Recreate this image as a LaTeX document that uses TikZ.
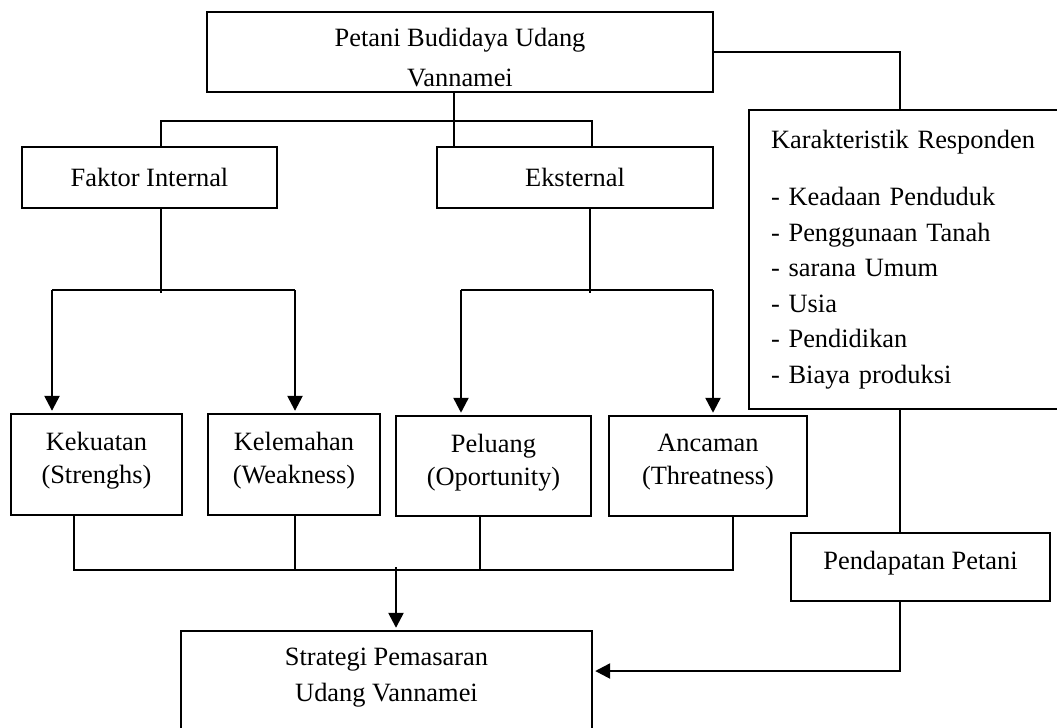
\documentclass[tikz,border=0pt]{standalone}
\usepackage{fontspec}
\setmainfont{Liberation Serif}
\usetikzlibrary{positioning,arrows.meta,calc}
\newcommand{\turun}[1]{\rule[-#1]{0pt}{#1}}

\begin{document}
\begin{tikzpicture}[x=0.4545pt,y=-0.4545pt,
  kotak/.style={draw,line width=0.9pt,align=center,inner sep=0pt,font=\fontsize{12}{15}\selectfont},
  garis/.style={line width=0.9pt},
  panah/.style={line width=1.1pt,-{Triangle[length=6.8pt,width=6.8pt]},shorten >=1pt}]
  \useasboundingbox (0,0) rectangle (1057,727);
  \clip (0,0) rectangle (1057,727);
  % kotak
  \node[kotak,minimum width=230pt,minimum height=36.4pt] (petani) at (460,52)
    {\rule{0pt}{13.6pt}Petani Budidaya Udang\\[3pt]Vannamei};
  \node[kotak,minimum width=115.9pt,minimum height=27.7pt] (internal) at (149.5,177.5) {Faktor Internal};
  \node[kotak,minimum width=125.4pt,minimum height=27.7pt] (eksternal) at (575,177.5) {Eksternal};
  \node[kotak,anchor=north west,align=left,text width=122pt,inner xsep=10pt,minimum height=135.9pt,
    font=\fontsize{12}{16.1}\selectfont] (karakteristik) at (748,109)
    {Karakteristik Responden\\[10pt]- Keadaan Penduduk\\- Penggunaan Tanah\\- sarana Umum\\- Usia\\- Pendidikan\\- Biaya produksi};
  \foreach \nama/\x/\y/\lebar/\tinggi/\teks in {
      kekuatan/96.5/464.5/77.7pt/45.9pt/{Kekuatan\\(Strenghs)\turun{6pt}},
      kelemahan/294/464.5/78.2pt/45.9pt/{Kelemahan\\(Weakness)\turun{6pt}},
      peluang/493.5/466/88.6pt/45.5pt/{Peluang\\(Oportunity)\turun{6pt}},
      ancaman/708/466/90pt/45.5pt/{Ancaman\\(Threatness)\turun{6pt}}}
    \node[kotak,minimum width=\lebar,minimum height=\tinggi] (\nama) at (\x,\y) {\teks};
  \node[kotak,minimum width=117.7pt,minimum height=30.9pt] (pendapatan) at (920.5,567) {Pendapatan Petani\turun{6.4pt}};
  \node[kotak,anchor=north,minimum width=186.8pt,minimum height=50pt,font=\fontsize{12}{16.4}\selectfont] (strategi) at (386.5,630)
    {Strategi Pemasaran\\Udang Vannamei\turun{10pt}};

  % garis atas
  \coordinate (cabang) at (454,121);
  \coordinate (kiri) at (161,121);
  \coordinate (kanan) at (592,121);
  \coordinate (kr) at (900,50);
  \draw[garis] (cabang |- petani.south) -- (cabang |- eksternal.north);
  \draw[garis] (kiri |- internal.north) -- (kiri) -- (kanan) -- (kanan |- eksternal.north);
  \draw[garis] (petani.east) -| (kr |- karakteristik.north);

  % ke swot
  \coordinate (bi) at (161,290);
  \coordinate (be) at (590,290);
  \coordinate (a1) at (52,290);
  \coordinate (a2) at (295,290);
  \coordinate (a3) at (461,290);
  \coordinate (a4) at (713,290);
  \draw[garis] (bi |- internal.south) -- ([yshift=-1.5pt]bi);
  \draw[garis] (be |- eksternal.south) -- ([yshift=-1.5pt]be);
  \draw[garis] (a1) -- (a2);
  \draw[garis] (a3) -- (a4);
  \foreach \a/\b in {a1/kekuatan,a2/kelemahan,a3/peluang,a4/ancaman}
    \draw[panah] (\a) -- (\a |- \b.north);

  % ke strategi
  \coordinate (b1) at (74,570);
  \coordinate (b2) at (295,570);
  \coordinate (b3) at (480,570);
  \coordinate (b4) at (733,570);
  \coordinate (s1) at (396,567);
  \coordinate (p1) at (900,671);
  \draw[garis] (b1 |- kekuatan.south) -- (b1) -- (b4) -- (b4 |- ancaman.south);
  \draw[garis] (b2 |- kelemahan.south) -- (b2);
  \draw[garis] (b3 |- peluang.south) -- (b3);
  \draw[panah] (s1) -- (s1 |- strategi.north);
  \draw[line width=1.1pt] (kr |- karakteristik.south) -- (kr |- pendapatan.north);
  \draw[panah] (p1 |- pendapatan.south) -- (p1) -- (strategi.east |- p1);
\end{tikzpicture}
\end{document}
